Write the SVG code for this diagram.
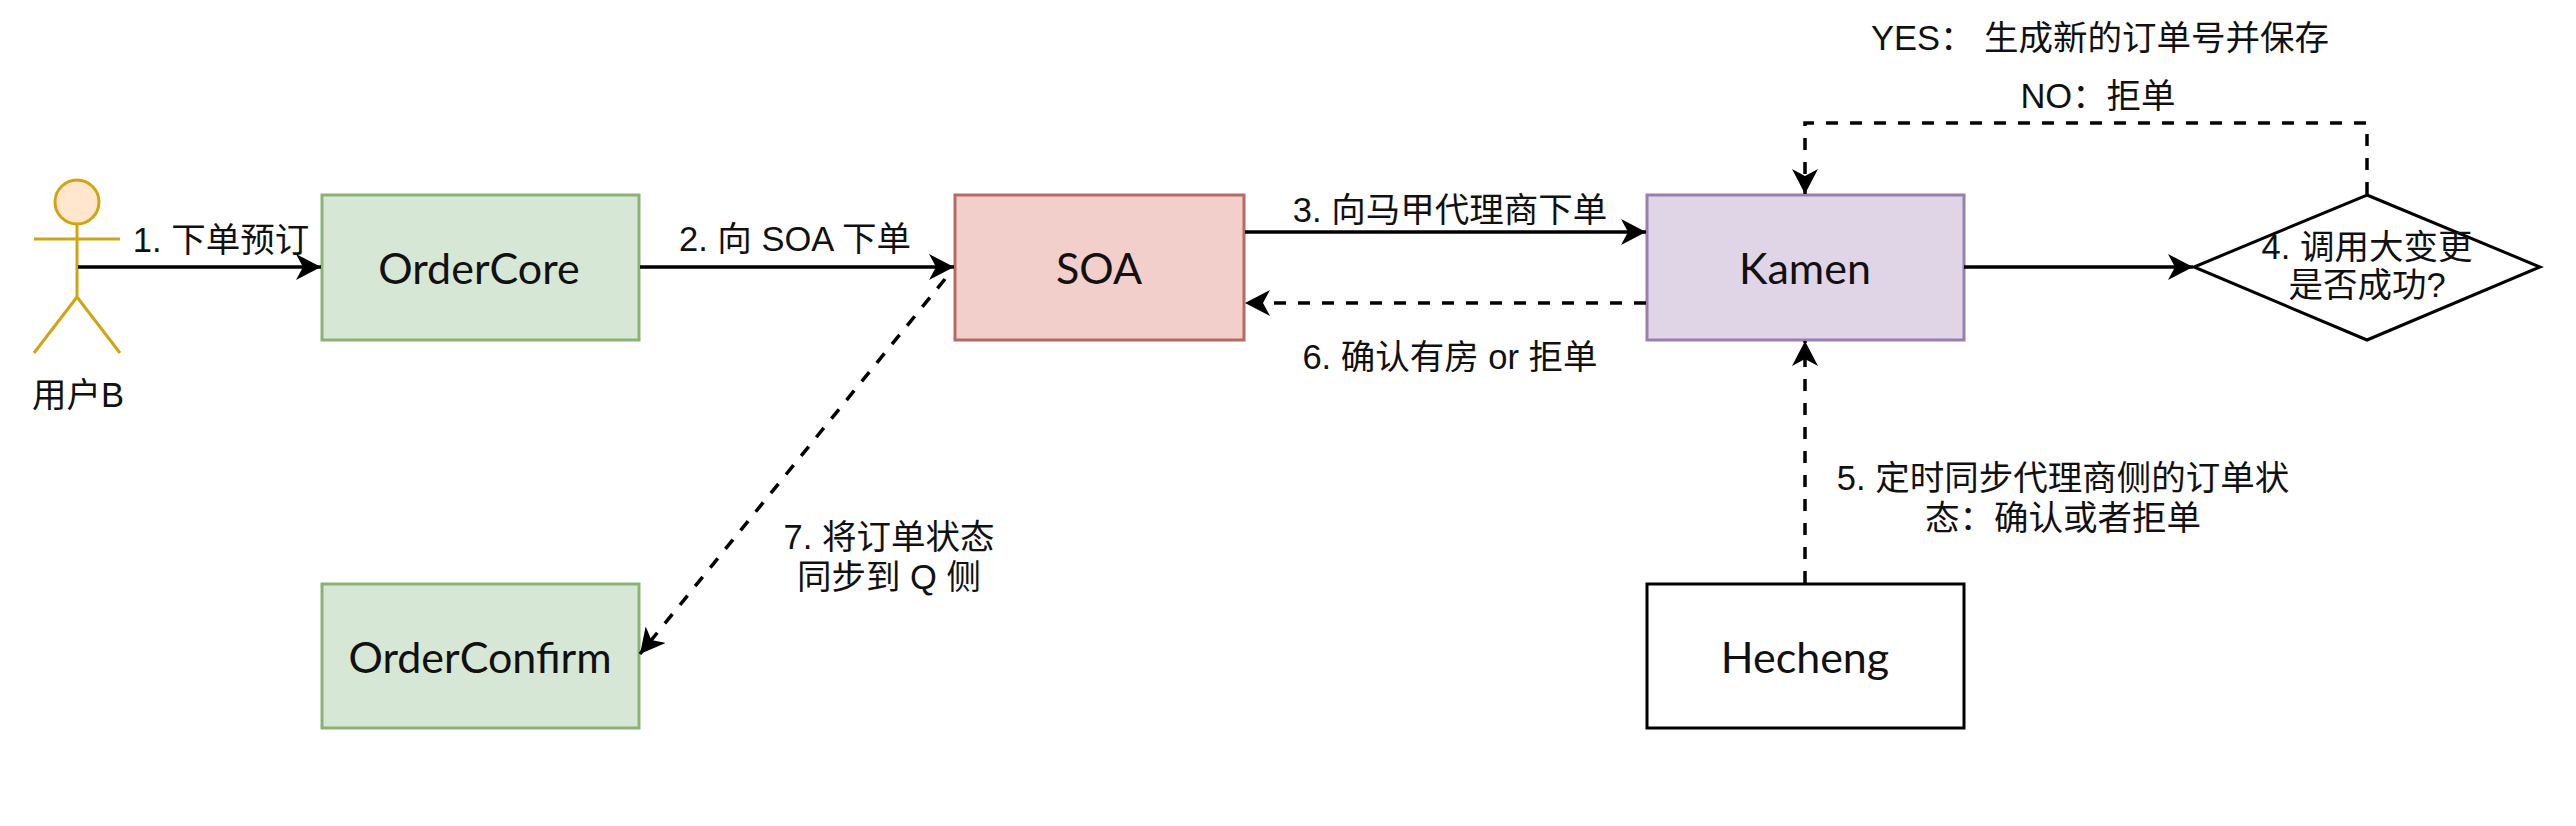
<svg xmlns="http://www.w3.org/2000/svg" width="2576" height="826" viewBox="0 0 2576 826">
<style>
text{font-family:"Liberation Sans","Noto Sans CJK SC",sans-serif;font-size:34.5px;fill:#111;text-anchor:middle}
.n{font-family:"Comic Sans MS","Lato",sans-serif;font-size:43px}
.c{fill:none;stroke:#000;stroke-width:3.5}
.d{stroke-dasharray:12 12}
.box{stroke-width:3}
</style>
<defs>
<marker id="a" viewBox="0 0 26 26" refX="25" refY="13" markerWidth="26" markerHeight="26" markerUnits="userSpaceOnUse" orient="auto"><path d="M0 0L25 13L0 26L7 13Z" fill="#000"/></marker>
</defs>
<rect width="2576" height="826" fill="#fff"/>
<g id="user" fill="none" stroke="#d2a40f" stroke-width="3">
<ellipse cx="77" cy="202" rx="22" ry="22" fill="#ffe6cc"/>
<path d="M77 224V297M34 239H120M77 297L34 353M77 297L120 353"/>
<text x="78" y="407" stroke="none">用户B</text>
</g>
<g id="orderCore"><rect class="box" x="322" y="195" width="317" height="145" fill="#d6e7d5" stroke="#8ab373"/><text class="n" x="479" y="284">OrderCore</text></g>
<g id="soa"><rect class="box" x="955" y="195" width="289" height="145" fill="#f3cfcb" stroke="#b66a62"/><text class="n" x="1099" y="284">SOA</text></g>
<g id="kamen"><rect class="box" x="1647" y="195" width="317" height="145" fill="#e0d5e6" stroke="#9a7fae"/><text class="n" x="1805" y="284">Kamen</text></g>
<g id="decision"><path d="M2367 195L2540 267L2367 340L2194 267Z" fill="#fff" stroke="#000" stroke-width="3"/><text x="2367" y="259">4. 调用大变更</text><text x="2367" y="297">是否成功?</text></g>
<g id="orderConfirm"><rect class="box" x="322" y="584" width="317" height="144" fill="#d6e7d5" stroke="#8ab373"/><text class="n" x="480" y="673">OrderConfirm</text></g>
<g id="hecheng"><rect class="box" x="1647" y="584" width="317" height="144" fill="#fff" stroke="#000"/><text class="n" x="1805" y="673">Hecheng</text></g>
<g id="connectors">
<path class="c" d="M78 267H321" marker-end="url(#a)"/>
<path class="c" d="M640 267H954" marker-end="url(#a)"/>
<path class="c" d="M1245 232H1646" marker-end="url(#a)"/>
<path class="c d" d="M1646 303H1245" marker-end="url(#a)"/>
<path class="c" d="M1964 267H2193" marker-end="url(#a)"/>
<path class="c d" d="M2367 194V123H1805V194" marker-end="url(#a)"/>
<path class="c d" d="M1805 583V341" marker-end="url(#a)"/>
<path class="c d" d="M945 279L640 654" marker-end="url(#a)"/>
</g>
<g id="labels">
<text x="221" y="252">1. 下单预订</text>
<text x="795" y="251">2. 向 SOA 下单</text>
<text x="1450" y="222">3. 向马甲代理商下单</text>
<text x="1450" y="369">6. 确认有房 or 拒单</text>
<text x="2100" y="50">YES： 生成新的订单号并保存</text>
<text x="2098" y="108">NO：拒单</text>
<text x="2063" y="490">5. 定时同步代理商侧的订单状</text>
<text x="2063" y="530">态：确认或者拒单</text>
<text x="889" y="549">7. 将订单状态</text>
<text x="889" y="589">同步到 Q 侧</text>
</g>
</svg>
